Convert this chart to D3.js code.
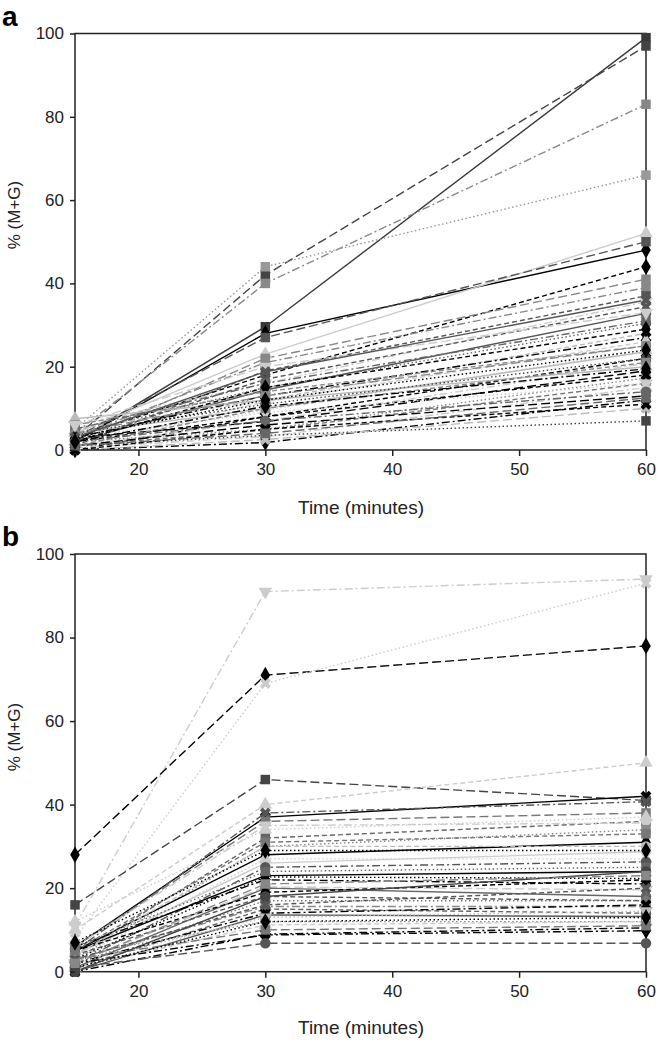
<!DOCTYPE html>
<html><head><meta charset="utf-8">
<script src="https://cdn.jsdelivr.net/npm/d3@7"></script>
<style>
html,body{margin:0;padding:0;background:#fff;}
svg{display:block;font-family:"Liberation Sans",Arial,sans-serif;}
</style></head>
<body><svg id="c" width="657" height="1041"></svg>
<script>
// ---------- DATA ----------
const times = [15, 30, 60];
const xTicks = [20, 30, 40, 50, 60];
const yTicks = [0, 20, 40, 60, 80, 100];
const panelLabels = ["a", "b"];
const xTitle = "Time (minutes)";
const yTitle = "% (M+G)";

// Panel a: value at 15, 30, 60 minutes for each series
const aAt15 = [2, 3, 4, 5, 2, 4, 3, 3, 2, 3, 1, 6, 2, 2, 4, 5, 3, 1, 2, 4, 0, 1, 3, 2, 1, 0.5, 0, 1, 0, 7.5, 6, 4, 2, 1, 3, 5, 2, 4, 1, 3, 2, 0, 6, 3, 1, 2];
const aAt30 = [29.6, 42, 40, 44, 28, 23, 27, 18, 22, 21, 19, 16, 17, 14.4, 15, 12, 13, 11.6, 9.6, 10, 8, 7, 6.8, 5, 4.8, 3.2, 1.8, 3.5, 2.5, 12, 14, 11, 8, 6, 9, 16, 15, 13, 10, 12, 7, 5, 20, 18.8, 4, 10.5];
const aAt60 = [99, 97, 83, 66, 48, 52, 50, 44, 41, 39, 37, 35.6, 34.4, 32.8, 30.4, 28, 27, 26, 24, 23.6, 22, 20.8, 19, 17.3, 16, 15, 12, 7, 10, 20, 25, 22, 18, 13, 16, 31, 29, 25, 21, 24, 14, 11, 33, 36, 12.5, 19.5];

// Panel b
const bAt15 = [11, 28, 8, 16, 10, 6, 5, 6, 4, 6, 3, 5, 4, 3, 2, 5, 3, 6, 2, 1, 4, 2, 3, 1, 0, 2, 4, 1, 0, 2, 1, 3, 5, 2, 6, 4, 3, 1, 0, 12, 5, 2, 7];
const bAt30 = [91, 71, 69, 46, 40, 37, 38, 36, 32, 35, 30, 28, 26, 27, 25, 23, 22.7, 22, 20.3, 20, 18, 17, 15.6, 15, 13.6, 14, 12, 11.2, 9, 8.8, 6.8, 10, 19, 13, 24, 30, 16, 12, 18, 34, 31, 21, 29];
const bAt60 = [94, 78, 93, 41, 50, 42, 40.7, 38, 36, 35.6, 34, 31, 28.7, 27, 26.3, 24, 22.3, 21, 19.6, 18, 17, 17, 15.6, 14, 13.2, 16, 12, 12, 10.5, 9.8, 6.8, 11, 22, 14.5, 25, 30, 20, 13, 24, 37, 33, 23, 29];

// ---------- STYLES (per series) ----------
const aMarker = ["sq","sq","sq","sq","dia","triU","sq","dia","sq","sq","sq","triD","x","circ","circ","dia","x","dia","triU","circ","x","dia","dia","sq","circ","triU","dia","sq","x","triU","sq","circ","x","dia","triD","sq","dia","circ","sq","dia","circ","x","triD","x","sq","dia"];
const aColor = ["#3a3a3a","#444","#888","#999","#000","#ccc","#555","#000","#888","#888","#555","#ccc","#555","#555","#666","#bbb","#000","#ccc","#ccc","#bbb","#000","#ccc","#000","#888","#777","#ccc","#000","#444","#bbb","#bbb","#888","#444","#000","#000","#ccc","#666","#000","#888","#888","#000","#666","#000","#ccc","#555","#666","#000"];
const aDash = ["solid","long","dashdot","dot","solid","solid","long","dash","long","dashdot","dash","dashdot","dash","solid","dot","dash","dashdot","dash","dot","solid","dash","dashdot","long","dot","dash","dashdot","dashdot","dot","long","solid","dash","dot","dash","long","dot","dashdot","dash","long","dash","dot","dashdot","dash","long","solid","long","dashdot"];

const bMarker = ["triD","dia","x","sq","triU","x","x","sq","sq","triD","sq","dia","circ","triU","circ","dia","x","dia","triD","circ","sq","circ","sq","circ","sq","x","circ","triU","x","dia","circ","sq","dia","triD","sq","circ","x","dia","circ","triU","sq","sq","dia"];
const bColor = ["#ccc","#000","#ccc","#444","#ccc","#000","#555","#777","#666","#ccc","#888","#000","#ccc","#ccc","#555","#000","#000","#000","#ccc","#666","#555","#777","#888","#666","#555","#000","#888","#ccc","#000","#000","#555","#777","#000","#bbb","#666","#bbb","#555","#000","#444","#ccc","#777","#888","#000"];
const bDash = ["dashdot","long","dot","long","dash","solid","dashdot","long","dash","dashdot","dot","solid","solid","dot","dashdot","solid","dot","dashdot","long","solid","dash","dot","dashdot","dash","solid","dashdot","dot","dash","dashdot","dashdot","long","long","dash","dot","dot","dash","dash","dot","solid","dot","dash","long","dot"];

const dashMap = {solid: null, long: "9,4", dash: "5,3", dot: "1.5,2.5", dashdot: "8,3,2,3"};

// ---------- LAYOUT ----------
const svg = d3.select("#c");
const left = 75, right = 646;
const panels = [
  {label: panelLabels[0], top: 33.5, bottom: 450, v15: aAt15, v30: aAt30, v60: aAt60, mk: aMarker, col: aColor, ds: aDash, labelY: 26, yTitleY: 215, xTitleY: 514},
  {label: panelLabels[1], top: 554, bottom: 971.7, v15: bAt15, v30: bAt30, v60: bAt60, mk: bMarker, col: bColor, ds: bDash, labelY: 546, yTitleY: 737, xTitleY: 1034}
];

const x = d3.scaleLinear().domain([15, 60]).range([left, right]);

function symbolPath(kind) {
  switch (kind) {
    case "sq": return d3.symbol(d3.symbolSquare, 90)();
    case "dia": return d3.symbol(d3.symbolDiamond, 80)();
    case "triU": return d3.symbol(d3.symbolTriangle, 80)();
    case "triD": return d3.symbol(d3.symbolTriangle, 80)();
    case "x": return d3.symbol(d3.symbolCross, 75)();
    default: return d3.symbol(d3.symbolCircle, 85)();
  }
}
function symbolRot(kind) {
  if (kind === "triD") return 180;
  if (kind === "x") return 45;
  return 0;
}

panels.forEach(p => {
  const y = d3.scaleLinear().domain([0, 100]).range([p.bottom, p.top]);
  const g = svg.append("g");
  const series = p.v15.map((d, i) => ({vals: [p.v15[i], p.v30[i], p.v60[i]], mk: p.mk[i], col: p.col[i], ds: p.ds[i]}));
  const line = d3.line().x((d, j) => x(times[j])).y(d => y(d));

  // lines
  g.selectAll("path.ln").data(series).join("path")
    .attr("class", "ln")
    .attr("d", s => line(s.vals))
    .attr("fill", "none")
    .attr("stroke", s => s.col)
    .attr("stroke-width", 1.4)
    .attr("stroke-dasharray", s => dashMap[s.ds]);

  // frame
  g.append("rect").attr("x", left).attr("y", p.top).attr("width", right - left).attr("height", p.bottom - p.top)
    .attr("fill", "none").attr("stroke", "#222").attr("stroke-width", 1.5);

  // markers
  series.forEach(s => {
    s.vals.forEach((v, j) => {
      g.append("path")
        .attr("d", symbolPath(s.mk))
        .attr("transform", `translate(${x(times[j])},${y(v)}) rotate(${symbolRot(s.mk)})`)
        .attr("fill", s.col);
    });
  });

  // axes
  const yAxis = d3.axisLeft(y).tickValues(yTicks).tickSize(5).tickPadding(6).tickFormat(d3.format("d"));
  const ya = g.append("g").attr("transform", `translate(${left},0)`).call(yAxis);
  const xAxis = d3.axisBottom(x).tickValues(xTicks).tickSize(6).tickPadding(7).tickFormat(d3.format("d"));
  const xa = g.append("g").attr("transform", `translate(0,${p.bottom})`).call(xAxis);
  [ya, xa].forEach(a => {
    a.select(".domain").remove();
    a.selectAll("line").attr("stroke", "#222").attr("stroke-width", 1.5);
    a.selectAll("text").attr("fill", "#222").style("font-size", "17px").style("font-family", "'Liberation Sans',Arial,sans-serif");
  });

  // titles
  g.append("text").attr("x", 361).attr("y", p.xTitleY).attr("text-anchor", "middle")
    .style("font-size", "19px").attr("fill", "#222").text(xTitle);
  g.append("text").attr("transform", `translate(20,${p.yTitleY}) rotate(-90)`).attr("text-anchor", "middle")
    .style("font-size", "17px").attr("fill", "#222").text(yTitle);
  g.append("text").attr("x", 2).attr("y", p.labelY).style("font-size", "28px").style("font-weight", "bold")
    .attr("fill", "#000").text(p.label);
});
</script></body></html>
